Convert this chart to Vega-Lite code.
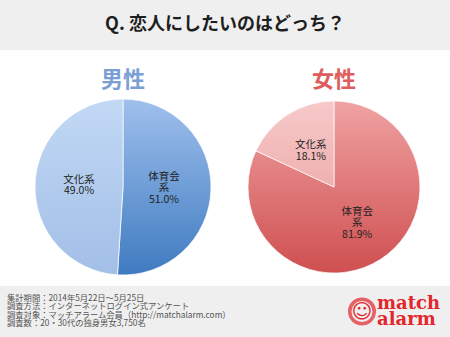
{
  "$schema": "https://vega.github.io/schema/vega-lite/v6.json",
  "background": "#efefef",
  "padding": 0,
  "spacing": 0,
  "config": {"view": {"stroke": null}, "font": "Noto Sans CJK JP"},
  "vconcat": [
    {
      "width": 450,
      "height": 50,
      "data": {"values": [{"title": "Q. 恋人にしたいのはどっち？"}]},
      "mark": {"type": "text", "fontSize": 18, "fontWeight": "bold", "color": "#1e1e1e", "font": "Noto Sans CJK JP"},
      "encoding": {"text": {"field": "title"}}
    },
    {
      "width": 450,
      "height": 236,
      "view": {"fill": "#ffffff"},
      "data": {
        "values": [
          {"gender": "男性", "type": "体育会系", "pct": 51.0, "label": "体育会\n系\n51.0%"},
          {"gender": "男性", "type": "文化系", "pct": 49.0, "label": "文化系\n49.0%"},
          {"gender": "女性", "type": "体育会系", "pct": 81.9, "label": "体育会\n系\n81.9%"},
          {"gender": "女性", "type": "文化系", "pct": 18.1, "label": "文化系\n18.1%"}
        ]
      },
      "encoding": {
        "x": {"field": "gender", "type": "nominal", "scale": {"type": "point", "padding": 0, "domain": ["男性", "女性"], "range": [123, 334]}, "axis": null},
        "y": {"datum": "pie", "type": "nominal", "scale": {"type": "point", "padding": 0, "domain": ["heading", "pie"], "range": [30, 137]}, "axis": null}
      },
      "layer": [
        {
          "transform": [{"filter": "datum.gender === '男性'"}],
          "encoding": {
            "theta": {"field": "pct", "type": "quantitative", "stack": true},
            "order": {"field": "type", "type": "ordinal"}
          },
          "layer": [
            {
              "mark": {"type": "arc", "radius": 88, "stroke": "#ffffff", "strokeWidth": 0.7},
              "encoding": {
                "color": {
                  "condition": {"test": "datum.type === '体育会系'", "value": {"gradient": "linear", "x1": 0, "y1": 0, "x2": 0, "y2": 1, "stops": [{"offset": 0, "color": "#9fc0ec"}, {"offset": 1, "color": "#3f7bc1"}]}},
                  "value": {"gradient": "linear", "x1": 0, "y1": 0, "x2": 0, "y2": 1, "stops": [{"offset": 0, "color": "#c2d8f5"}, {"offset": 1, "color": "#a2bfe7"}]}
                }
              }
            },
            {
              "mark": {"type": "text", "radius": 41, "dy": -11.5, "fontSize": 10.5, "lineBreak": "\n", "lineHeight": 11.5, "color": "#222222"},
              "encoding": {"text": {"condition": {"test": "datum.type === '体育会系'", "field": "label"}, "value": ""}}
            },
            {
              "mark": {"type": "text", "radius": 44, "dy": -5.75, "fontSize": 10.5, "lineBreak": "\n", "lineHeight": 11.5, "color": "#222222"},
              "encoding": {"text": {"condition": {"test": "datum.type === '文化系'", "field": "label"}, "value": ""}}
            }
          ]
        },
        {
          "transform": [{"filter": "datum.gender === '女性'"}],
          "encoding": {
            "theta": {"field": "pct", "type": "quantitative", "stack": true},
            "order": {"field": "type", "type": "ordinal"}
          },
          "layer": [
            {
              "mark": {"type": "arc", "radius": 86, "stroke": "#ffffff", "strokeWidth": 0.7},
              "encoding": {
                "color": {
                  "condition": {"test": "datum.type === '体育会系'", "value": {"gradient": "linear", "x1": 0, "y1": 0, "x2": 0, "y2": 1, "stops": [{"offset": 0, "color": "#f0a2a2"}, {"offset": 1, "color": "#cf4f50"}]}},
                  "value": {"gradient": "linear", "x1": 0, "y1": 0, "x2": 0, "y2": 1, "stops": [{"offset": 0, "color": "#f7c9c9"}, {"offset": 1, "color": "#efb0b0"}]}
                }
              }
            },
            {
              "mark": {"type": "text", "radius": 43, "dy": -11.5, "fontSize": 10.5, "lineBreak": "\n", "lineHeight": 11.5, "color": "#222222"},
              "encoding": {"text": {"condition": {"test": "datum.type === '体育会系'", "field": "label"}, "value": ""}}
            },
            {
              "mark": {"type": "text", "radius": 43, "dy": -5.75, "fontSize": 10.5, "lineBreak": "\n", "lineHeight": 11.5, "color": "#222222"},
              "encoding": {"text": {"condition": {"test": "datum.type === '文化系'", "field": "label"}, "value": ""}}
            }
          ]
        },
        {
          "transform": [{"filter": "datum.type === '体育会系'"}],
          "mark": {"type": "text", "fontSize": 22, "fontWeight": "bold"},
          "encoding": {
            "y": {"datum": "heading", "type": "nominal"},
            "text": {"field": "gender"},
            "color": {"condition": {"test": "datum.gender === '男性'", "value": "#7b9fd5"}, "value": "#de5d5d"}
          }
        }
      ]
    },
    {
      "width": 450,
      "height": 51,
      "data": {
        "values": [
          {"block": "info", "text": "集計期間：2014年5月22日～5月25日\n調査方法：インターネットログイン式アンケート\n調査対象：マッチアラーム会員（http://matchalarm.com）\n調査数：20・30代の独身男女3,750名"},
          {"block": "logo", "text": "match\nalarm"}
        ]
      },
      "encoding": {
        "x": {"field": "block", "type": "nominal", "scale": {"type": "point", "padding": 0, "domain": ["info", "logo"], "range": [7, 377]}, "axis": null}
      },
      "layer": [
        {
          "transform": [{"filter": "datum.block === 'info'"}],
          "mark": {"type": "text", "align": "left", "baseline": "middle", "dy": -12.75, "fontSize": 8.3, "lineHeight": 8.5, "lineBreak": "\n", "color": "#555555"},
          "encoding": {"text": {"field": "text"}}
        },
        {
          "transform": [{"filter": "datum.block === 'logo'"}],
          "mark": {"type": "text", "align": "left", "baseline": "middle", "dy": -8, "fontSize": 18, "fontWeight": "bold", "font": "DejaVu Serif", "lineHeight": 16, "lineBreak": "\n", "color": "#e3262c"},
          "encoding": {"text": {"field": "text"}}
        },
        {
          "transform": [{"filter": "datum.block === 'logo'"}],
          "mark": {"type": "point", "shape": "circle", "size": 600, "filled": false, "strokeWidth": 3.5, "color": "#e3262c", "xOffset": -15},
          "encoding": {}
        },
        {
          "transform": [{"filter": "datum.block === 'logo'"}],
          "mark": {"type": "text", "text": "☺", "font": "DejaVu Sans", "fontSize": 20, "color": "#e3262c", "xOffset": -15},
          "encoding": {}
        }
      ]
    }
  ]
}
